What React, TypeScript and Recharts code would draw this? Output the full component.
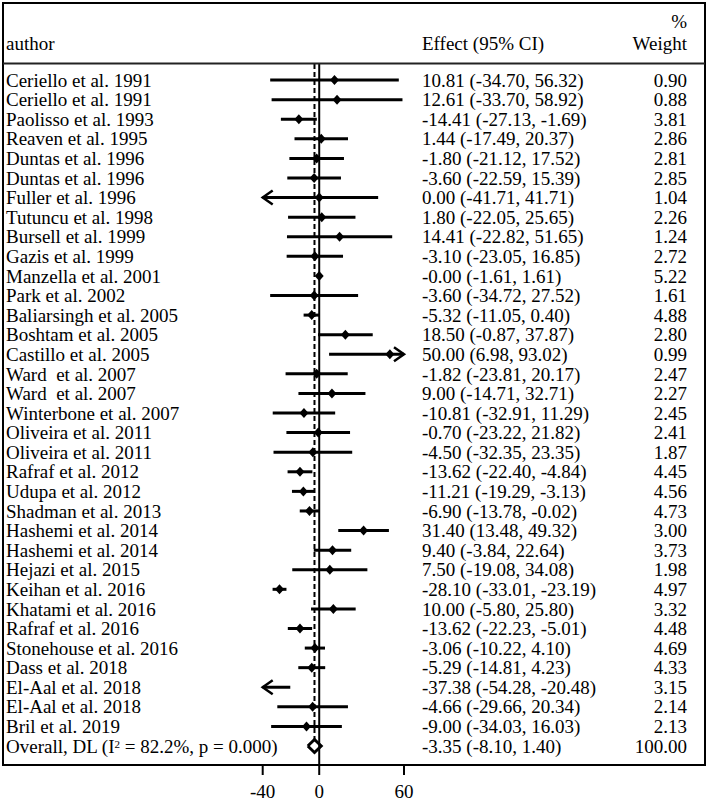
import React from "react";
import { ComposedChart, Scatter, XAxis, YAxis, ReferenceLine, ReferenceDot } from "recharts";

const authors = [
  "Ceriello et al. 1991", "Ceriello et al. 1991", "Paolisso et al. 1993", "Reaven et al. 1995",
  "Duntas et al. 1996", "Duntas et al. 1996", "Fuller et al. 1996", "Tutuncu et al. 1998",
  "Bursell et al. 1999", "Gazis et al. 1999", "Manzella et al. 2001", "Park et al. 2002",
  "Baliarsingh et al. 2005", "Boshtam et al. 2005", "Castillo et al. 2005", "Ward  et al. 2007",
  "Ward  et al. 2007", "Winterbone et al. 2007", "Oliveira et al. 2011", "Oliveira et al. 2011",
  "Rafraf et al. 2012", "Udupa et al. 2012", "Shadman et al. 2013", "Hashemi et al. 2014",
  "Hashemi et al. 2014", "Hejazi et al. 2015", "Keihan et al. 2016", "Khatami et al. 2016",
  "Rafraf et al. 2016", "Stonehouse et al. 2016", "Dass et al. 2018", "El-Aal et al. 2018",
  "El-Aal et al. 2018", "Bril et al. 2019",
];
const effects = [10.81, 12.61, -14.41, 1.44, -1.8, -3.6, 0.0, 1.8, 14.41, -3.1, -0.001, -3.6, -5.32, 18.5, 50.0, -1.82, 9.0, -10.81, -0.7, -4.5, -13.62, -11.21, -6.9, 31.4, 9.4, 7.5, -28.1, 10.0, -13.62, -3.06, -5.29, -37.38, -4.66, -9.0];
const lower = [-34.7, -33.7, -27.13, -17.49, -21.12, -22.59, -41.71, -22.05, -22.82, -23.05, -1.61, -34.72, -11.05, -0.87, 6.98, -23.81, -14.71, -32.91, -23.22, -32.35, -22.4, -19.29, -13.78, 13.48, -3.84, -19.08, -33.01, -5.8, -22.23, -10.22, -14.81, -54.28, -29.66, -34.03];
const upper = [56.32, 58.92, -1.69, 20.37, 17.52, 15.39, 41.71, 25.65, 51.65, 16.85, 1.61, 27.52, 0.4, 37.87, 93.02, 20.17, 32.71, 11.29, 21.82, 23.35, -4.84, -3.13, -0.02, 49.32, 22.64, 34.08, -23.19, 25.8, -5.01, 4.1, 4.23, -20.48, 20.34, 16.03];
const weights = [0.9, 0.88, 3.81, 2.86, 2.81, 2.85, 1.04, 2.26, 1.24, 2.72, 5.22, 1.61, 4.88, 2.8, 0.99, 2.47, 2.27, 2.45, 2.41, 1.87, 4.45, 4.56, 4.73, 3.0, 3.73, 1.98, 4.97, 3.32, 4.48, 4.69, 4.33, 3.15, 2.14, 2.13];

const overallEffect = -3.35;
const overallLower = -8.1;
const overallUpper = 1.4;
const overallWeight = 100.0;
const overallI2 = "82.2%";
const overallP = "0.000";

const xDomain = [-40, 60];
const xTicks = [-40, 0, 60];

const FONT = "'Liberation Serif', 'Times New Roman', Times, serif";
const FS = 19;
const nStudies = authors.length;
const overallRow = nStudies;
const rowTicks = Array.from({ length: nStudies + 1 }, (_, i) => i);
const yDomain = [-0.82, 34.97];
const diamondHalf = 0.33;
const arrowLen = 7; // in data units

const fmt = (v: number) => v.toFixed(2);

const studies = authors.map((a, i) => ({
  row: i,
  est: effects[i],
  lo: lower[i],
  hi: upper[i],
}));

const markerData = studies
  .filter((s) => s.est > xDomain[0] + arrowLen * (s.lo < xDomain[0] ? 1 : 0) && s.est < xDomain[1])
  .map((s) => ({ x: s.est, y: s.row }));

const overallDiamond = [
  { x: overallLower, y: overallRow },
  { x: overallEffect, y: overallRow - diamondHalf },
  { x: overallUpper, y: overallRow },
  { x: overallEffect, y: overallRow + diamondHalf },
  { x: overallLower, y: overallRow },
];

const DiamondMarker = (p: any) => {
  const { cx, cy } = p;
  if (cx == null || cy == null) return <g />;
  return (
    <polygon
      points={`${cx - 4.5},${cy} ${cx},${cy - 5} ${cx + 4.5},${cy} ${cx},${cy + 5}`}
      fill="#000"
    />
  );
};

const Empty = () => <g />;

const LeftArrow = (p: any) => (
  <path d={`M${p.cx + 10},${p.cy - 7} L${p.cx},${p.cy} L${p.cx + 10},${p.cy + 7}`} stroke="#000" strokeWidth={2.5} fill="none" />
);
const RightArrow = (p: any) => (
  <path d={`M${p.cx - 10},${p.cy - 7} L${p.cx},${p.cy} L${p.cx - 10},${p.cy + 7}`} stroke="#000" strokeWidth={2.5} fill="none" />
);

const AuthorTick = (p: any) => {
  const i = p.payload.value;
  if (i === overallRow) {
    return (
      <text x={6} y={p.y} dy="0.35em" fontFamily={FONT} fontSize={FS} fill="#000" style={{ whiteSpace: "pre" }}>
        <tspan>Overall, DL (I</tspan>
        <tspan fontSize={11} dy="-0.4em">2</tspan>
        <tspan dy="0.23em">{` = ${overallI2}, p = ${overallP})`}</tspan>
      </text>
    );
  }
  return (
    <text x={6} y={p.y} dy="0.35em" fontFamily={FONT} fontSize={FS} fill="#000" style={{ whiteSpace: "pre" }}>
      {authors[i]}
    </text>
  );
};

const RightTick = (p: any) => {
  const i = p.payload.value;
  const isOverall = i === overallRow;
  const eff = isOverall
    ? `${fmt(overallEffect)} (${fmt(overallLower)}, ${fmt(overallUpper)})`
    : `${fmt(effects[i])} (${fmt(lower[i])}, ${fmt(upper[i])})`;
  const w = isOverall ? fmt(overallWeight) : fmt(weights[i]);
  return (
    <g>
      <text x={422} y={p.y} dy="0.35em" fontFamily={FONT} fontSize={FS} fill="#000">{eff}</text>
      <text x={687} y={p.y} dy="0.35em" textAnchor="end" fontFamily={FONT} fontSize={FS} fill="#000">{w}</text>
    </g>
  );
};

export default function App() {
  return (
    <div style={{ position: "relative", width: 708, height: 801, background: "#fff" }}>
      <style>{"body{margin:0;background:#fff}"}</style>
      <ComposedChart width={708} height={801} margin={{ top: 64, right: 0, bottom: 6, left: 0 }}>
        <XAxis
          type="number"
          dataKey="x"
          domain={xDomain}
          ticks={xTicks}
          interval={0}
          allowDataOverflow
          axisLine={false}
          tickSize={10}
          tickMargin={10}
          tickLine={{ stroke: "#000", strokeWidth: 2 }}
          tick={{ fill: "#000", fontSize: FS, fontFamily: FONT }}
          height={30}
        />
        <YAxis
          type="number"
          dataKey="y"
          domain={yDomain}
          ticks={rowTicks}
          interval={0}
          reversed
          allowDataOverflow
          axisLine={false}
          tickLine={false}
          width={262.7}
          tick={<AuthorTick />}
        />
        <YAxis
          yAxisId="r"
          orientation="right"
          type="number"
          dataKey="y"
          domain={yDomain}
          ticks={rowTicks}
          interval={0}
          reversed
          allowDataOverflow
          axisLine={false}
          tickLine={false}
          width={304}
          tick={<RightTick />}
        />
        <Scatter yAxisId="r" data={[{ x: 0, y: 0 }]} shape={Empty} isAnimationActive={false} />
        <ReferenceLine x={0} stroke="#000" strokeWidth={2} ifOverflow="visible" />
        <ReferenceLine
          segment={[
            { x: overallEffect, y: yDomain[0] },
            { x: overallEffect, y: overallRow - diamondHalf },
          ]}
          stroke="#000"
          strokeWidth={2}
          strokeDasharray="5 3"
          ifOverflow="visible"
        />
        {studies.map((s) => (
          <ReferenceLine
            key={`ci-${s.row}`}
            segment={[
              { x: Math.max(s.lo, xDomain[0]), y: s.row },
              { x: Math.min(s.hi, xDomain[1]), y: s.row },
            ]}
            stroke="#000"
            strokeWidth={3}
            ifOverflow="visible"
          />
        ))}
        {studies
          .filter((s) => s.lo < xDomain[0])
          .map((s) => (
            <ReferenceDot key={`la-${s.row}`} x={xDomain[0]} y={s.row} r={1} shape={LeftArrow} ifOverflow="visible" />
          ))}
        {studies
          .filter((s) => s.hi > xDomain[1])
          .map((s) => (
            <ReferenceDot key={`ra-${s.row}`} x={xDomain[1]} y={s.row} r={1} shape={RightArrow} ifOverflow="visible" />
          ))}
        <Scatter data={markerData} shape={DiamondMarker} isAnimationActive={false} />
        <Scatter
          data={overallDiamond}
          shape={Empty}
          line={{ stroke: "#000", strokeWidth: 3 }}
          lineJointType="linear"
          isAnimationActive={false}
        />
      </ComposedChart>
      <svg
        width={708}
        height={801}
        style={{ position: "absolute", left: 0, top: 0, pointerEvents: "none" }}
      >
        <rect x={3} y={3} width={702} height={762} fill="none" stroke="#000" strokeWidth={2} />
        <line x1={3} x2={705} y1={63.5} y2={63.5} stroke="#222" strokeWidth={2} />
        <text x={6} y={43} dy="0.35em" fontFamily={FONT} fontSize={FS} fill="#000">author</text>
        <text x={422} y={43} dy="0.35em" fontFamily={FONT} fontSize={FS} fill="#000">Effect (95% CI)</text>
        <text x={687} y={21} dy="0.35em" textAnchor="end" fontFamily={FONT} fontSize={FS} fill="#000">%</text>
        <text x={687} y={43} dy="0.35em" textAnchor="end" fontFamily={FONT} fontSize={FS} fill="#000">Weight</text>
      </svg>
    </div>
  );
}
